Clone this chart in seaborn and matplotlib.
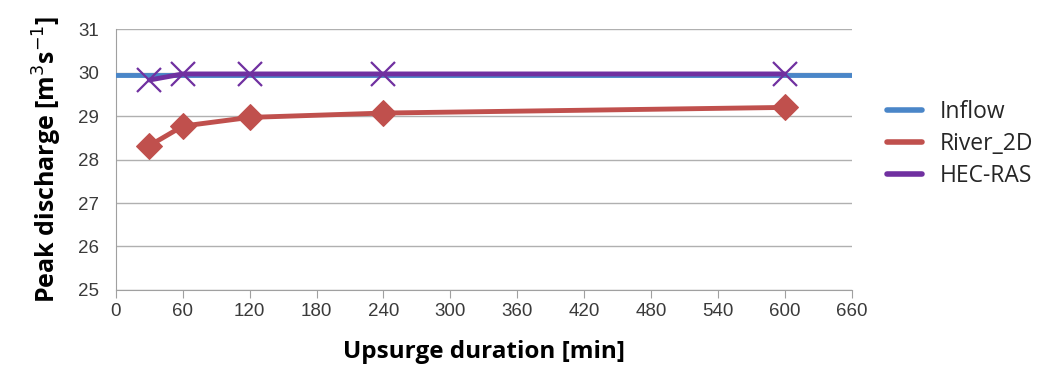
import matplotlib
matplotlib.use("Agg")
import matplotlib.pyplot as plt
import seaborn as sns

# data
inflow_x = [0, 660]
inflow_y = [29.95, 29.95]
duration = [30, 60, 120, 240, 600]
river2d = [28.32, 28.77, 28.97, 29.07, 29.20]
hecras = [29.83, 29.97, 29.97, 29.97, 29.97]

x_ticks = list(range(0, 661, 60))
y_ticks = list(range(25, 32))

sns.set_style("white")
plt.rcParams['font.family'] = ['Liberation Sans Narrow', 'Liberation Sans', 'DejaVu Sans']

fig = plt.figure(figsize=(10.54, 3.84), dpi=100)
ax = fig.add_axes([0.110, 0.245, 0.698, 0.679])

c_in, c_r2d, c_hec = "#4a86c8", "#c0504d", "#7030a0"

sns.lineplot(x=inflow_x, y=inflow_y, ax=ax, color=c_in, linewidth=3.5,
             label="Inflow", zorder=3)
sns.lineplot(x=duration, y=river2d, ax=ax, color=c_r2d, linewidth=3.5,
             marker="D", markersize=13, markeredgecolor=c_r2d,
             label="River_2D", zorder=4)
sns.lineplot(x=duration, y=hecras, ax=ax, color=c_hec, linewidth=3.5,
             marker="x", markersize=17, markeredgewidth=1.6,
             markeredgecolor=c_hec, label="HEC-RAS", zorder=5)

ax.set_xlim(0, 660)
ax.set_ylim(25, 31)
ax.set_xticks(x_ticks)
ax.set_yticks(y_ticks)
ax.tick_params(axis="both", labelsize=13.5, labelcolor="#3a3a3a")
ax.tick_params(axis="x", direction="out", length=6, color="#a0a0a0", bottom=True)
ax.tick_params(axis="y", length=0, pad=12)
ax.yaxis.grid(True, color="#b0b0b0", linewidth=1)
ax.set_axisbelow(True)
for s in ["top", "right"]:
    ax.spines[s].set_visible(False)
for s in ["left", "bottom"]:
    ax.spines[s].set_color("#a0a0a0")

lab_font = ['Open Sans', 'DejaVu Sans']
ax.set_xlabel("Upsurge duration [min]", fontsize=17.5, fontweight="bold",
              family=lab_font, labelpad=14, color="black")
ax.set_ylabel("Peak discharge [m$^3$s$^{-1}$]", fontsize=18, fontweight="bold",
              family=lab_font, labelpad=10, color="black")

leg = ax.legend(loc="center left", bbox_to_anchor=(1.02, 0.56), frameon=False,
                prop={"family": lab_font, "size": 16.5}, handlelength=1.55,
                labelspacing=0.35, handletextpad=0.75)
for h in leg.get_lines():
    h.set_marker("")
    h.set_linewidth(4)

fig.savefig("out.png", dpi=100)
